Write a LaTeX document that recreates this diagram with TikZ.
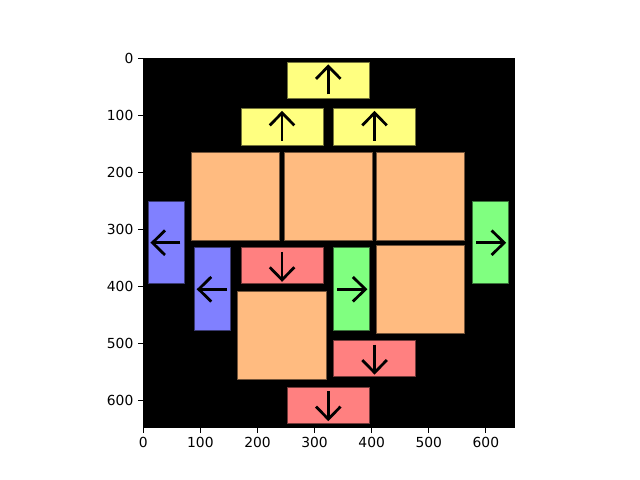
\documentclass[tikz,border=0pt]{standalone}
\usepackage{fontspec}
\setmainfont{DejaVu Sans}
\definecolor{cyel}{RGB}{255,255,128}
\definecolor{corg}{RGB}{255,187,128}
\definecolor{cred}{RGB}{255,128,128}
\definecolor{cblu}{RGB}{128,128,255}
\definecolor{cgrn}{RGB}{128,255,128}
\tikzset{
  box/.style={fill=#1, draw=#1!45!black, line width=0.6pt},
  arr/.style={draw=black, line width=2pt, line cap=butt, line join=miter},
  tick/.style={line width=0.8pt},
  ticklab/.style={font=\fontsize{10}{12}\selectfont, inner sep=0pt}
}
\newcommand\myup[2]{\draw[arr] (#1,#2+24.5) -- (#1,#2-24.5); \draw[arr] (#1-21.5,#2-2.5) -- (#1,#2-24.5) -- (#1+21.5,#2-2.5);}
\newcommand\mydown[2]{\draw[arr] (#1,#2-24.5) -- (#1,#2+24.5); \draw[arr] (#1-21.5,#2+2.5) -- (#1,#2+24.5) -- (#1+21.5,#2+2.5);}
\newcommand\myleft[2]{\draw[arr] (#1+24.5,#2) -- (#1-24.5,#2); \draw[arr] (#1-2.5,#2-21.5) -- (#1-24.5,#2) -- (#1-2.5,#2+21.5);}
\newcommand\myright[2]{\draw[arr] (#1-24.5,#2) -- (#1+24.5,#2); \draw[arr] (#1+2.5,#2-21.5) -- (#1+24.5,#2) -- (#1+2.5,#2+21.5);}
\begin{document}
\begin{tikzpicture}[x=0.01in,y=-0.01in]
\useasboundingbox (0,0) rectangle (640,480);
\fill[white] (0,0) rectangle (640,480);
\begin{scope}[shift={(143.3,58.3)}, x=0.005707in, y=-0.005707in]
  \fill[black] (0,0) rectangle (650,647);
  % orange squares
  \draw[box=corg] (85,165) rectangle (239,319);
  \draw[box=corg] (247,165) rectangle (401,319);
  \draw[box=corg] (409,165) rectangle (563,319);
  \draw[box=corg] (409,327) rectangle (563,481);
  \draw[box=corg] (165,408) rectangle (320,563);
  % yellow
  \draw[box=cyel] (252,7) rectangle (396,70);
  \draw[box=cyel] (171,88) rectangle (315,152);
  \draw[box=cyel] (333,88) rectangle (477,152);
  % red
  \draw[box=cred] (171,332) rectangle (315,395);
  \draw[box=cred] (333,494) rectangle (477,558);
  \draw[box=cred] (252,576) rectangle (396,639);
  % blue
  \draw[box=cblu] (9,251) rectangle (72,395);
  \draw[box=cblu] (90,332) rectangle (153,477);
  % green
  \draw[box=cgrn] (576,251) rectangle (639,395);
  \draw[box=cgrn] (333,332) rectangle (396,477);
  % arrows
  \myup{324}{38.5}
  \myup{243}{120}
  \myup{405}{120}
  \myleft{40.5}{323}
  \myleft{121.5}{404.5}
  \mydown{243}{363.5}
  \myright{364.5}{404.5}
  \myright{607.5}{323}
  \mydown{405}{526}
  \mydown{324}{607.5}
  % frame
  \draw[tick] (0,0) rectangle (650,647);
  % ticks
  \foreach \v in {0,100,...,600}{
    \draw[tick] (\v,647) -- ++(0,8.6);
    \node[ticklab, anchor=north] at (\v,664) {\v};
    \draw[tick] (0,\v) -- ++(-8.6,0);
    \node[ticklab, anchor=east] at (-17,\v) {\v};
  }
\end{scope}
\end{tikzpicture}
\end{document}
